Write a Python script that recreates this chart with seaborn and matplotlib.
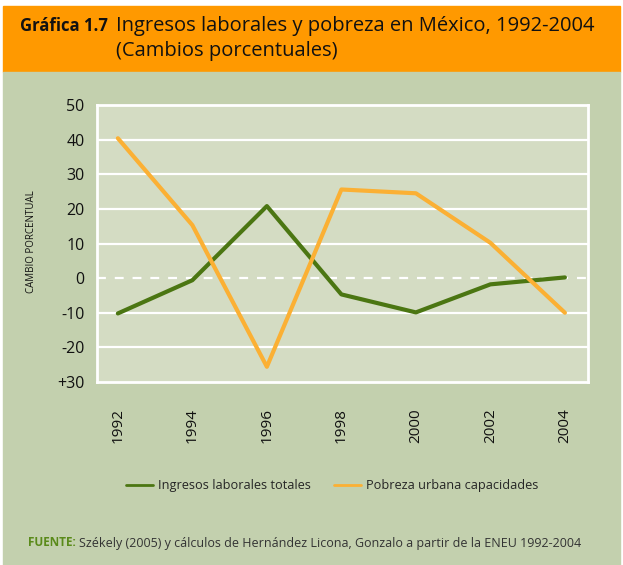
import matplotlib
matplotlib.use("Agg")
import matplotlib.pyplot as plt
from matplotlib.patches import Rectangle
from matplotlib.lines import Line2D
import seaborn as sns
import pandas as pd

# Series (percentage change)
years = [1992, 1994, 1996, 1998, 2000, 2002, 2004]
ingresos = [-10.2, -0.6, 20.8, -4.7, -9.9, -1.8, 0.2]
pobreza = [40.4, 15.3, -25.6, 25.6, 24.5, 10.2, -10.0]
series_names = ["Ingresos laborales totales", "Pobreza urbana capacidades"]
y_ticks = [50, 40, 30, 20, 10, 0, -10, -20, -30]
y_ticklabels = ["50", "40", "30", "20", "10", "0", "-10", "-20", "+30"]

df = pd.DataFrame({
    "year": years * 2,
    "value": ingresos + pobreza,
    "serie": [series_names[0]] * len(years) + [series_names[1]] * len(years),
})

ORANGE_HDR = "#FF9900"
PANEL = "#C3D0AE"
PLOT_BG = "#D4DCC3"
GREEN = "#4B7612"
ORANGE = "#FBB034"

sns.set_theme(style="white")
plt.rcParams["font.family"] = ["Open Sans", "DejaVu Sans"]

W, H = 623, 565
fig = plt.figure(figsize=(W / 100, H / 100), dpi=100)
fig.patch.set_facecolor("white")

def fx(px):
    return px / W

def fy(py):
    return 1 - py / H

# header band and panel, kept behind the axes
fig.patches.append(Rectangle((fx(3), fy(72)), fx(617), (72 - 6) / H,
                             transform=fig.transFigure, color=ORANGE_HDR, zorder=-10))
fig.patches.append(Rectangle((fx(3), 0), fx(617), (H - 72) / H,
                             transform=fig.transFigure, color=PANEL, zorder=-10))

fig.text(fx(20), fy(26), "Gráfica 1.7", fontsize=12, fontweight="bold",
         color="#111111", va="center", ha="left")
fig.text(fx(116), fy(26), "Ingresos laborales y pobreza en México, 1992-2004",
         fontsize=14.5, color="#111111", va="center", ha="left")
fig.text(fx(116), fy(51), "(Cambios porcentuales)",
         fontsize=14.5, color="#111111", va="center", ha="left")

ax = fig.add_axes([fx(97), fy(382), fx(588 - 97), (382 - 105) / H])
ax.set_facecolor(PLOT_BG)

for v in [40, 30, 20, 10, -10, -20]:
    ax.axhline(v, color="white", lw=1.6, zorder=1)
ax.axhline(0, color="white", lw=1.6, ls=(0, (4, 4)), zorder=1)

sns.lineplot(data=df, x="year", y="value", hue="serie",
             palette=[GREEN, ORANGE], linewidth=3, ax=ax, legend=False, zorder=3)

ax.set_xlim(1991.44, 2004.62)
ax.set_ylim(-30, 50)
ax.set_yticks(y_ticks)
ax.set_yticklabels(y_ticklabels)
ax.set_xticks(years)
ax.set_xticklabels([str(y) for y in years], rotation=90)
ax.tick_params(axis="y", length=0, pad=9, labelsize=11.5, labelcolor="#111111")
ax.tick_params(axis="x", length=11, width=2, color="white", direction="out",
               pad=8, labelsize=11, labelcolor="#111111")
ax.set_xlabel("")
ax.set_ylabel("")
for s in ax.spines.values():
    s.set_visible(True)
    s.set_color("white")
    s.set_linewidth(2)

fig.text(fx(31), fy(242), "CAMBIO PORCENTUAL", rotation=90, fontsize=7,
         color="#111111", va="center", ha="center")

handles = [Line2D([], [], color=GREEN, lw=2), Line2D([], [], color=ORANGE, lw=2)]
fig.legend(handles, series_names, loc="center left",
           bbox_to_anchor=(fx(115), fy(486)), ncol=2, frameon=False,
           fontsize=9.2, handlelength=2.1, handletextpad=0.4, columnspacing=1.8)

fig.text(fx(28), fy(543), "FUENTE:", fontsize=8.5, fontweight="bold",
         color="#5A8A1A", va="center", ha="left")
fig.text(fx(79), fy(543),
         "Székely (2005) y cálculos de Hernández Licona, Gonzalo a partir de la ENEU 1992-2004",
         fontsize=9, color="#333333", va="center", ha="left")

fig.savefig("out.png", dpi=100, facecolor=fig.get_facecolor())
